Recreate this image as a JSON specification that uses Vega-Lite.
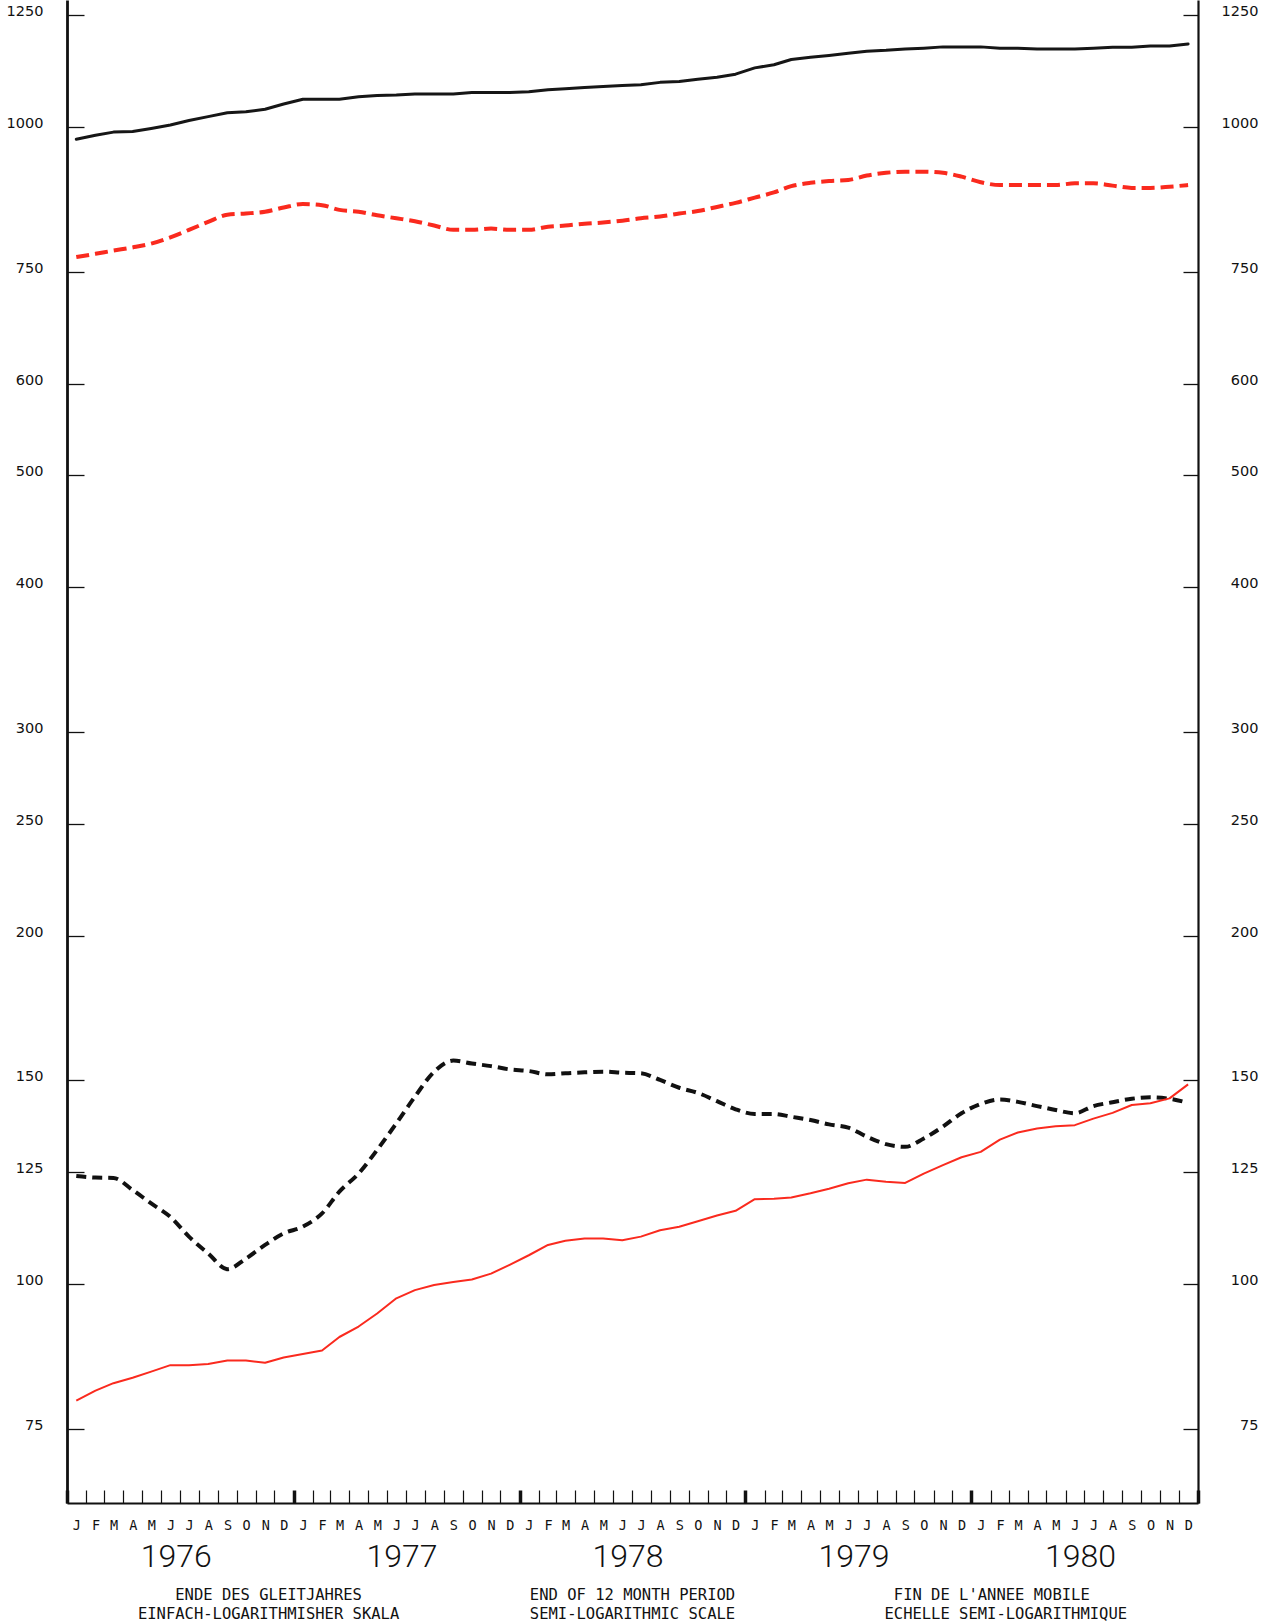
{
  "$schema": "https://vega.github.io/schema/vega-lite/v6.json",
  "width": 1131,
  "height": 1503,
  "autosize": {"type": "none"},
  "padding": {"left": 67, "top": 0, "right": 73, "bottom": 121},
  "background": "white",
  "config": {"view": {"stroke": null}, "axis": {"grid": false}},
  "title": {
    "text": [
      "ENDE DES GLEITJAHRES\u00a0\u00a0\u00a0\u00a0\u00a0\u00a0\u00a0\u00a0\u00a0\u00a0\u00a0\u00a0\u00a0\u00a0\u00a0\u00a0\u00a0\u00a0END OF 12 MONTH PERIOD\u00a0\u00a0\u00a0\u00a0\u00a0\u00a0\u00a0\u00a0\u00a0\u00a0\u00a0\u00a0\u00a0\u00a0\u00a0\u00a0\u00a0FIN DE L'ANNEE MOBILE",
      "EINFACH-LOGARITHMISHER SKALA\u00a0\u00a0\u00a0\u00a0\u00a0\u00a0\u00a0\u00a0\u00a0\u00a0\u00a0\u00a0\u00a0\u00a0SEMI-LOGARITHMIC SCALE\u00a0\u00a0\u00a0\u00a0\u00a0\u00a0\u00a0\u00a0\u00a0\u00a0\u00a0\u00a0\u00a0\u00a0\u00a0\u00a0ECHELLE SEMI-LOGARITHMIQUE"
    ],
    "orient": "bottom",
    "anchor": "middle",
    "frame": "group",
    "font": "DejaVu Sans Mono",
    "fontSize": 15.5,
    "fontWeight": "normal",
    "lineHeight": 19,
    "offset": 16,
    "color": "#111111"
  },
  "data": {
    "values": [
      {"date": "1976-01-16", "series": "S1", "value": 976},
      {"date": "1976-02-16", "series": "S1", "value": 984},
      {"date": "1976-03-16", "series": "S1", "value": 990},
      {"date": "1976-04-16", "series": "S1", "value": 991},
      {"date": "1976-05-16", "series": "S1", "value": 997},
      {"date": "1976-06-16", "series": "S1", "value": 1004},
      {"date": "1976-07-16", "series": "S1", "value": 1013},
      {"date": "1976-08-16", "series": "S1", "value": 1021},
      {"date": "1976-09-16", "series": "S1", "value": 1029},
      {"date": "1976-10-16", "series": "S1", "value": 1031},
      {"date": "1976-11-16", "series": "S1", "value": 1036},
      {"date": "1976-12-16", "series": "S1", "value": 1047},
      {"date": "1977-01-16", "series": "S1", "value": 1057},
      {"date": "1977-02-16", "series": "S1", "value": 1057},
      {"date": "1977-03-16", "series": "S1", "value": 1057},
      {"date": "1977-04-16", "series": "S1", "value": 1062},
      {"date": "1977-05-16", "series": "S1", "value": 1065},
      {"date": "1977-06-16", "series": "S1", "value": 1066},
      {"date": "1977-07-16", "series": "S1", "value": 1068},
      {"date": "1977-08-16", "series": "S1", "value": 1068},
      {"date": "1977-09-16", "series": "S1", "value": 1068},
      {"date": "1977-10-16", "series": "S1", "value": 1071},
      {"date": "1977-11-16", "series": "S1", "value": 1071},
      {"date": "1977-12-16", "series": "S1", "value": 1071},
      {"date": "1978-01-16", "series": "S1", "value": 1073},
      {"date": "1978-02-16", "series": "S1", "value": 1077},
      {"date": "1978-03-16", "series": "S1", "value": 1079},
      {"date": "1978-04-16", "series": "S1", "value": 1082},
      {"date": "1978-05-16", "series": "S1", "value": 1084},
      {"date": "1978-06-16", "series": "S1", "value": 1086},
      {"date": "1978-07-16", "series": "S1", "value": 1088},
      {"date": "1978-08-16", "series": "S1", "value": 1093},
      {"date": "1978-09-16", "series": "S1", "value": 1095},
      {"date": "1978-10-16", "series": "S1", "value": 1100},
      {"date": "1978-11-16", "series": "S1", "value": 1104},
      {"date": "1978-12-16", "series": "S1", "value": 1111},
      {"date": "1979-01-16", "series": "S1", "value": 1125},
      {"date": "1979-02-16", "series": "S1", "value": 1132},
      {"date": "1979-03-16", "series": "S1", "value": 1144},
      {"date": "1979-04-16", "series": "S1", "value": 1149},
      {"date": "1979-05-16", "series": "S1", "value": 1153},
      {"date": "1979-06-16", "series": "S1", "value": 1158},
      {"date": "1979-07-16", "series": "S1", "value": 1163},
      {"date": "1979-08-16", "series": "S1", "value": 1165},
      {"date": "1979-09-16", "series": "S1", "value": 1168},
      {"date": "1979-10-16", "series": "S1", "value": 1170},
      {"date": "1979-11-16", "series": "S1", "value": 1173},
      {"date": "1979-12-16", "series": "S1", "value": 1173},
      {"date": "1980-01-16", "series": "S1", "value": 1173},
      {"date": "1980-02-16", "series": "S1", "value": 1170},
      {"date": "1980-03-16", "series": "S1", "value": 1170},
      {"date": "1980-04-16", "series": "S1", "value": 1168},
      {"date": "1980-05-16", "series": "S1", "value": 1168},
      {"date": "1980-06-16", "series": "S1", "value": 1168},
      {"date": "1980-07-16", "series": "S1", "value": 1170},
      {"date": "1980-08-16", "series": "S1", "value": 1172},
      {"date": "1980-09-16", "series": "S1", "value": 1172},
      {"date": "1980-10-16", "series": "S1", "value": 1175},
      {"date": "1980-11-16", "series": "S1", "value": 1175},
      {"date": "1980-12-16", "series": "S1", "value": 1180},

      {"date": "1976-01-16", "series": "S2", "value": 772},
      {"date": "1976-02-16", "series": "S2", "value": 777},
      {"date": "1976-03-16", "series": "S2", "value": 782},
      {"date": "1976-04-16", "series": "S2", "value": 787},
      {"date": "1976-05-16", "series": "S2", "value": 793},
      {"date": "1976-06-16", "series": "S2", "value": 803},
      {"date": "1976-07-16", "series": "S2", "value": 815},
      {"date": "1976-08-16", "series": "S2", "value": 828},
      {"date": "1976-09-16", "series": "S2", "value": 840},
      {"date": "1976-10-16", "series": "S2", "value": 842},
      {"date": "1976-11-16", "series": "S2", "value": 845},
      {"date": "1976-12-16", "series": "S2", "value": 852},
      {"date": "1977-01-16", "series": "S2", "value": 858},
      {"date": "1977-02-16", "series": "S2", "value": 856},
      {"date": "1977-03-16", "series": "S2", "value": 848},
      {"date": "1977-04-16", "series": "S2", "value": 845},
      {"date": "1977-05-16", "series": "S2", "value": 839},
      {"date": "1977-06-16", "series": "S2", "value": 834},
      {"date": "1977-07-16", "series": "S2", "value": 829},
      {"date": "1977-08-16", "series": "S2", "value": 822},
      {"date": "1977-09-16", "series": "S2", "value": 815},
      {"date": "1977-10-16", "series": "S2", "value": 815},
      {"date": "1977-11-16", "series": "S2", "value": 817},
      {"date": "1977-12-16", "series": "S2", "value": 815},
      {"date": "1978-01-16", "series": "S2", "value": 815},
      {"date": "1978-02-16", "series": "S2", "value": 820},
      {"date": "1978-03-16", "series": "S2", "value": 822},
      {"date": "1978-04-16", "series": "S2", "value": 825},
      {"date": "1978-05-16", "series": "S2", "value": 827},
      {"date": "1978-06-16", "series": "S2", "value": 830},
      {"date": "1978-07-16", "series": "S2", "value": 834},
      {"date": "1978-08-16", "series": "S2", "value": 837},
      {"date": "1978-09-16", "series": "S2", "value": 842},
      {"date": "1978-10-16", "series": "S2", "value": 846},
      {"date": "1978-11-16", "series": "S2", "value": 853},
      {"date": "1978-12-16", "series": "S2", "value": 860},
      {"date": "1979-01-16", "series": "S2", "value": 869},
      {"date": "1979-02-16", "series": "S2", "value": 878},
      {"date": "1979-03-16", "series": "S2", "value": 889},
      {"date": "1979-04-16", "series": "S2", "value": 895},
      {"date": "1979-05-16", "series": "S2", "value": 898},
      {"date": "1979-06-16", "series": "S2", "value": 900},
      {"date": "1979-07-16", "series": "S2", "value": 908},
      {"date": "1979-08-16", "series": "S2", "value": 913},
      {"date": "1979-09-16", "series": "S2", "value": 915},
      {"date": "1979-10-16", "series": "S2", "value": 915},
      {"date": "1979-11-16", "series": "S2", "value": 913},
      {"date": "1979-12-16", "series": "S2", "value": 906},
      {"date": "1980-01-16", "series": "S2", "value": 896},
      {"date": "1980-02-16", "series": "S2", "value": 891},
      {"date": "1980-03-16", "series": "S2", "value": 891},
      {"date": "1980-04-16", "series": "S2", "value": 891},
      {"date": "1980-05-16", "series": "S2", "value": 891},
      {"date": "1980-06-16", "series": "S2", "value": 894},
      {"date": "1980-07-16", "series": "S2", "value": 894},
      {"date": "1980-08-16", "series": "S2", "value": 890},
      {"date": "1980-09-16", "series": "S2", "value": 886},
      {"date": "1980-10-16", "series": "S2", "value": 886},
      {"date": "1980-11-16", "series": "S2", "value": 888},
      {"date": "1980-12-16", "series": "S2", "value": 891},

      {"date": "1976-01-16", "series": "S3", "value": 124.0},
      {"date": "1976-02-16", "series": "S3", "value": 123.6},
      {"date": "1976-03-16", "series": "S3", "value": 123.5},
      {"date": "1976-04-16", "series": "S3", "value": 120.6},
      {"date": "1976-05-16", "series": "S3", "value": 117.4},
      {"date": "1976-06-16", "series": "S3", "value": 114.3},
      {"date": "1976-07-16", "series": "S3", "value": 109.9},
      {"date": "1976-08-16", "series": "S3", "value": 106.3},
      {"date": "1976-09-16", "series": "S3", "value": 103.0},
      {"date": "1976-10-16", "series": "S3", "value": 105.2},
      {"date": "1976-11-16", "series": "S3", "value": 108.1},
      {"date": "1976-12-16", "series": "S3", "value": 110.6},
      {"date": "1977-01-16", "series": "S3", "value": 112.1},
      {"date": "1977-02-16", "series": "S3", "value": 115.1},
      {"date": "1977-03-16", "series": "S3", "value": 120.2},
      {"date": "1977-04-16", "series": "S3", "value": 124.6},
      {"date": "1977-05-16", "series": "S3", "value": 130.6},
      {"date": "1977-06-16", "series": "S3", "value": 137.7},
      {"date": "1977-07-16", "series": "S3", "value": 145.2},
      {"date": "1977-08-16", "series": "S3", "value": 152.6},
      {"date": "1977-09-16", "series": "S3", "value": 156.0},
      {"date": "1977-10-16", "series": "S3", "value": 155.1},
      {"date": "1977-11-16", "series": "S3", "value": 154.3},
      {"date": "1977-12-16", "series": "S3", "value": 153.3},
      {"date": "1978-01-16", "series": "S3", "value": 152.8},
      {"date": "1978-02-16", "series": "S3", "value": 151.8},
      {"date": "1978-03-16", "series": "S3", "value": 152.1},
      {"date": "1978-04-16", "series": "S3", "value": 152.4},
      {"date": "1978-05-16", "series": "S3", "value": 152.6},
      {"date": "1978-06-16", "series": "S3", "value": 152.3},
      {"date": "1978-07-16", "series": "S3", "value": 152.1},
      {"date": "1978-08-16", "series": "S3", "value": 150.1},
      {"date": "1978-09-16", "series": "S3", "value": 147.8},
      {"date": "1978-10-16", "series": "S3", "value": 146.3},
      {"date": "1978-11-16", "series": "S3", "value": 143.9},
      {"date": "1978-12-16", "series": "S3", "value": 141.6},
      {"date": "1979-01-16", "series": "S3", "value": 140.3},
      {"date": "1979-02-16", "series": "S3", "value": 140.3},
      {"date": "1979-03-16", "series": "S3", "value": 139.5},
      {"date": "1979-04-16", "series": "S3", "value": 138.6},
      {"date": "1979-05-16", "series": "S3", "value": 137.4},
      {"date": "1979-06-16", "series": "S3", "value": 136.5},
      {"date": "1979-07-16", "series": "S3", "value": 134.1},
      {"date": "1979-08-16", "series": "S3", "value": 132.1},
      {"date": "1979-09-16", "series": "S3", "value": 131.4},
      {"date": "1979-10-16", "series": "S3", "value": 133.6},
      {"date": "1979-11-16", "series": "S3", "value": 136.8},
      {"date": "1979-12-16", "series": "S3", "value": 140.5},
      {"date": "1980-01-16", "series": "S3", "value": 143.1},
      {"date": "1980-02-16", "series": "S3", "value": 144.4},
      {"date": "1980-03-16", "series": "S3", "value": 143.7},
      {"date": "1980-04-16", "series": "S3", "value": 142.5},
      {"date": "1980-05-16", "series": "S3", "value": 141.4},
      {"date": "1980-06-16", "series": "S3", "value": 140.5},
      {"date": "1980-07-16", "series": "S3", "value": 142.5},
      {"date": "1980-08-16", "series": "S3", "value": 143.6},
      {"date": "1980-09-16", "series": "S3", "value": 144.6},
      {"date": "1980-10-16", "series": "S3", "value": 145.0},
      {"date": "1980-11-16", "series": "S3", "value": 144.6},
      {"date": "1980-12-16", "series": "S3", "value": 143.4},

      {"date": "1976-01-16", "series": "S4", "value": 79.3},
      {"date": "1976-02-16", "series": "S4", "value": 80.9},
      {"date": "1976-03-16", "series": "S4", "value": 82.1},
      {"date": "1976-04-16", "series": "S4", "value": 83.0},
      {"date": "1976-05-16", "series": "S4", "value": 84.0},
      {"date": "1976-06-16", "series": "S4", "value": 85.1},
      {"date": "1976-07-16", "series": "S4", "value": 85.1},
      {"date": "1976-08-16", "series": "S4", "value": 85.3},
      {"date": "1976-09-16", "series": "S4", "value": 85.9},
      {"date": "1976-10-16", "series": "S4", "value": 85.9},
      {"date": "1976-11-16", "series": "S4", "value": 85.5},
      {"date": "1976-12-16", "series": "S4", "value": 86.4},
      {"date": "1977-01-16", "series": "S4", "value": 87.0},
      {"date": "1977-02-16", "series": "S4", "value": 87.6},
      {"date": "1977-03-16", "series": "S4", "value": 90.0},
      {"date": "1977-04-16", "series": "S4", "value": 91.9},
      {"date": "1977-05-16", "series": "S4", "value": 94.3},
      {"date": "1977-06-16", "series": "S4", "value": 97.2},
      {"date": "1977-07-16", "series": "S4", "value": 98.8},
      {"date": "1977-08-16", "series": "S4", "value": 99.8},
      {"date": "1977-09-16", "series": "S4", "value": 100.4},
      {"date": "1977-10-16", "series": "S4", "value": 100.9},
      {"date": "1977-11-16", "series": "S4", "value": 102.1},
      {"date": "1977-12-16", "series": "S4", "value": 103.9},
      {"date": "1978-01-16", "series": "S4", "value": 105.9},
      {"date": "1978-02-16", "series": "S4", "value": 108.1},
      {"date": "1978-03-16", "series": "S4", "value": 109.0},
      {"date": "1978-04-16", "series": "S4", "value": 109.5},
      {"date": "1978-05-16", "series": "S4", "value": 109.5},
      {"date": "1978-06-16", "series": "S4", "value": 109.1},
      {"date": "1978-07-16", "series": "S4", "value": 109.9},
      {"date": "1978-08-16", "series": "S4", "value": 111.3},
      {"date": "1978-09-16", "series": "S4", "value": 112.1},
      {"date": "1978-10-16", "series": "S4", "value": 113.3},
      {"date": "1978-11-16", "series": "S4", "value": 114.6},
      {"date": "1978-12-16", "series": "S4", "value": 115.7},
      {"date": "1979-01-16", "series": "S4", "value": 118.4},
      {"date": "1979-02-16", "series": "S4", "value": 118.5},
      {"date": "1979-03-16", "series": "S4", "value": 118.8},
      {"date": "1979-04-16", "series": "S4", "value": 119.8},
      {"date": "1979-05-16", "series": "S4", "value": 120.9},
      {"date": "1979-06-16", "series": "S4", "value": 122.2},
      {"date": "1979-07-16", "series": "S4", "value": 123.1},
      {"date": "1979-08-16", "series": "S4", "value": 122.6},
      {"date": "1979-09-16", "series": "S4", "value": 122.3},
      {"date": "1979-10-16", "series": "S4", "value": 124.6},
      {"date": "1979-11-16", "series": "S4", "value": 126.7},
      {"date": "1979-12-16", "series": "S4", "value": 128.7},
      {"date": "1980-01-16", "series": "S4", "value": 130.1},
      {"date": "1980-02-16", "series": "S4", "value": 133.3},
      {"date": "1980-03-16", "series": "S4", "value": 135.2},
      {"date": "1980-04-16", "series": "S4", "value": 136.3},
      {"date": "1980-05-16", "series": "S4", "value": 136.9},
      {"date": "1980-06-16", "series": "S4", "value": 137.2},
      {"date": "1980-07-16", "series": "S4", "value": 139.0},
      {"date": "1980-08-16", "series": "S4", "value": 140.6},
      {"date": "1980-09-16", "series": "S4", "value": 142.8},
      {"date": "1980-10-16", "series": "S4", "value": 143.3},
      {"date": "1980-11-16", "series": "S4", "value": 144.7},
      {"date": "1980-12-16", "series": "S4", "value": 148.8}
    ]
  },
  "layer": [
    {
      "transform": [{"filter": {"field": "series", "equal": "S1"}}],
      "mark": {"type": "line", "color": "#161616", "strokeWidth": 3, "strokeCap": "round", "strokeJoin": "round"},
      "encoding": {
        "x": {
          "field": "date", "type": "temporal",
          "scale": {"type": "utc", "domain": [{"year": 1976, "month": 1, "date": 1, "utc": true}, {"year": 1981, "month": 1, "date": 1, "utc": true}]},
          "axis": {
            "orient": "bottom", "title": null, "grid": false,
            "tickCount": {"interval": "month", "step": 1},
            "labelExpr": "utcyear(datum.value) > 1980 ? '' : ['J','F','M','A','M','J','J','A','S','O','N','D'][utcmonth(datum.value)]",
            "labelOffset": 9.4, "labelFlush": false, "labelOverlap": false, "labelAngle": 0,
            "labelFont": "DejaVu Sans Mono", "labelFontSize": 13.5, "labelColor": "#111111",
            "labelPadding": 28,
            "tickSize": -13, "tickColor": "#111111",
            "tickWidth": {"condition": {"test": "utcmonth(datum.value) == 0", "value": 3.5}, "value": 1.2},
            "domainColor": "#111111", "domainWidth": 2
          }
        },
        "y": {
          "field": "value", "type": "quantitative",
          "scale": {"type": "log", "domain": [64.68, 1287.7]},
          "axis": {
            "orient": "left", "title": null, "grid": false,
            "values": [75, 100, 125, 150, 200, 250, 300, 400, 500, 600, 750, 1000, 1250],
            "labelExpr": "'' + datum.value",
            "labelOverlap": false, "labelFlush": false,
            "labelFont": "DejaVu Sans", "labelFontSize": 14.5, "labelColor": "#111111",
            "labelAlign": "right", "labelBaseline": "middle", "labelOffset": -3.5,
            "labelPadding": 41,
            "tickSize": -17, "tickWidth": 1.3, "tickColor": "#111111",
            "domainColor": "#111111", "domainWidth": 2.8
          }
        }
      }
    },
    {
      "transform": [{"filter": {"field": "series", "equal": "S2"}}],
      "mark": {"type": "line", "color": "#fa2a1e", "strokeWidth": 4, "strokeDash": [13, 6], "interpolate": "monotone"},
      "encoding": {
        "x": {
          "field": "date", "type": "temporal",
          "scale": {"type": "utc", "domain": [{"year": 1976, "month": 1, "date": 1, "utc": true}, {"year": 1981, "month": 1, "date": 1, "utc": true}]},
          "axis": {
            "orient": "bottom", "title": null, "grid": false,
            "values": [
              {"year": 1976, "month": 7, "date": 1, "utc": true},
              {"year": 1977, "month": 7, "date": 1, "utc": true},
              {"year": 1978, "month": 7, "date": 1, "utc": true},
              {"year": 1979, "month": 7, "date": 1, "utc": true},
              {"year": 1980, "month": 7, "date": 1, "utc": true}
            ],
            "labelExpr": "'' + utcyear(datum.value)",
            "ticks": false, "tickSize": 0, "domain": false,
            "labelOffset": -4, "labelFlush": false, "labelOverlap": false, "labelAngle": 0,
            "labelFont": "Roboto", "labelFontWeight": 300, "labelFontSize": 32, "labelColor": "#111111",
            "labelPadding": 38
          }
        },
        "y": {
          "field": "value", "type": "quantitative",
          "scale": {"type": "log", "domain": [64.68, 1287.7]},
          "axis": {
            "orient": "right", "title": null, "grid": false,
            "values": [75, 100, 125, 150, 200, 250, 300, 400, 500, 600, 750, 1000, 1250],
            "labelExpr": "'' + datum.value",
            "labelOverlap": false, "labelFlush": false,
            "labelFont": "DejaVu Sans", "labelFontSize": 14.5, "labelColor": "#111111",
            "labelAlign": "right", "labelBaseline": "middle", "labelOffset": -3.5,
            "labelPadding": 75,
            "tickSize": -15, "tickWidth": 1.3, "tickColor": "#111111",
            "domainColor": "#111111", "domainWidth": 2.2
          }
        }
      }
    },
    {
      "transform": [{"filter": {"field": "series", "equal": "S3"}}],
      "mark": {"type": "line", "color": "#111111", "strokeWidth": 4, "strokeDash": [10, 6], "interpolate": "monotone"},
      "encoding": {
        "x": {
          "field": "date", "type": "temporal",
          "scale": {"type": "utc", "domain": [{"year": 1976, "month": 1, "date": 1, "utc": true}, {"year": 1981, "month": 1, "date": 1, "utc": true}]},
          "axis": null
        },
        "y": {
          "field": "value", "type": "quantitative",
          "scale": {"type": "log", "domain": [64.68, 1287.7]},
          "axis": null
        }
      }
    },
    {
      "transform": [{"filter": {"field": "series", "equal": "S4"}}],
      "mark": {"type": "line", "color": "#fa2a1e", "strokeWidth": 2, "strokeJoin": "round"},
      "encoding": {
        "x": {
          "field": "date", "type": "temporal",
          "scale": {"type": "utc", "domain": [{"year": 1976, "month": 1, "date": 1, "utc": true}, {"year": 1981, "month": 1, "date": 1, "utc": true}]},
          "axis": null
        },
        "y": {
          "field": "value", "type": "quantitative",
          "scale": {"type": "log", "domain": [64.68, 1287.7]},
          "axis": null
        }
      }
    }
  ],
  "resolve": {"axis": {"x": "independent", "y": "independent"}}
}
